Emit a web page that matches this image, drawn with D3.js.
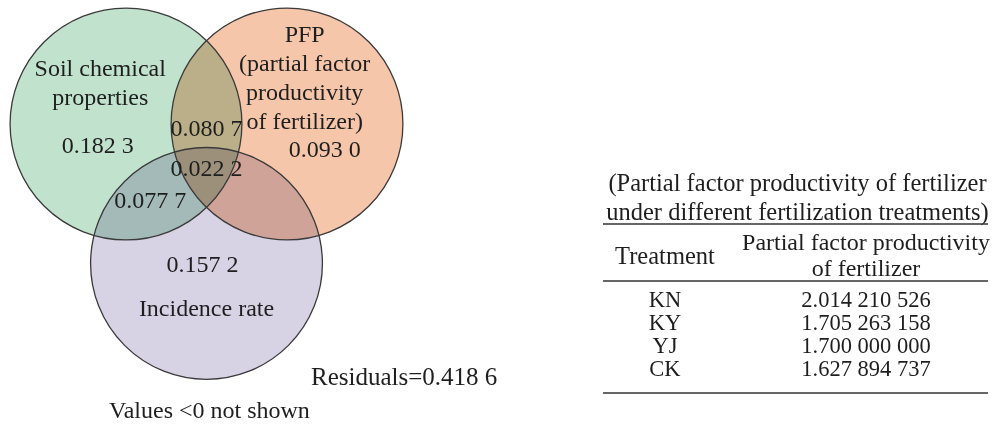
<!DOCTYPE html>
<html>
<head>
<meta charset="utf-8">
<script src="https://cdn.jsdelivr.net/npm/d3@7"></script>
<style>
  html, body { margin: 0; padding: 0; background: #fff; }
  svg { display: block; }
  text { font-family: "Liberation Serif", "Times New Roman", serif; fill: #1e1e1e; }
</style>
</head>
<body>
<svg width="996" height="424"></svg>
<script>
// venn sets
const setNames = ['soil', 'pfp', 'incidence'];
const setLabels = [
  ['Soil chemical', 'properties'],
  ['PFP', '(partial factor', 'productivity', 'of fertilizer)'],
  ['Incidence rate']
];
const setColors = ['#c1e2cd', '#f6c6aa', '#d8d2e5'];

// explained variance per region
const regionKeys = ['soil', 'pfp', 'incidence', 'soil&pfp', 'soil&incidence', 'soil&pfp&incidence'];
const regionValues = ['0.182 3', '0.093 0', '0.157 2', '0.080 7', '0.077 7', '0.022 2'];
const residuals = '0.418 6';
const note = 'Values <0 not shown';

// table
const tableTitle = ['(Partial factor productivity of fertilizer', 'under different fertilization treatments)'];
const tableHeader = ['Treatment', ['Partial factor productivity', 'of fertilizer']];
const treatments = ['KN', 'KY', 'YJ', 'CK'];
const pfpValues = ['2.014 210 526', '1.705 263 158', '1.700 000 000', '1.627 894 737'];

var svg = d3.select('svg');

// venn layout in unit space: three equal circles on an equilateral triangle
const R = 0.72;
const centers = [[0, 0], [1, 0], [0.5, Math.sqrt(3) / 2]];

var x = d3.scaleLinear().domain([0, 1]).range([126, 287]);
var y = d3.scaleLinear().domain([0, 1]).range([124, 285]);
const rPx = x(R) - x(0);

const venn = svg.append('g').attr('class', 'venn');

venn.selectAll('circle.fill')
  .data(setNames)
  .join('circle')
  .attr('class', 'fill')
  .attr('cx', (d, i) => x(centers[i][0]))
  .attr('cy', (d, i) => y(centers[i][1]))
  .attr('r', rPx)
  .attr('fill', (d, i) => setColors[i])
  .style('mix-blend-mode', 'multiply');

venn.selectAll('circle.edge')
  .data(setNames)
  .join('circle')
  .attr('class', 'edge')
  .attr('cx', (d, i) => x(centers[i][0]))
  .attr('cy', (d, i) => y(centers[i][1]))
  .attr('r', rPx)
  .attr('fill', 'none')
  .attr('stroke', '#3a3a3a')
  .attr('stroke-width', 1.3);

// label anchors (unit space)
const setLabelPos = [[-0.16, -0.3], [1.11, -0.51], [0.5, 1.195]];
const regionPos = {
  'soil': [-0.175, 0.18],
  'pfp': [1.235, 0.205],
  'incidence': [0.475, 0.92],
  'soil&pfp': [0.5, 0.075],
  'soil&incidence': [0.15, 0.52],
  'soil&pfp&incidence': [0.5, 0.325]
};

const fs = 24;

setLabels.forEach((lines, i) => {
  const p = setLabelPos[i];
  venn.append('text')
    .attr('text-anchor', 'middle')
    .attr('font-size', fs)
    .selectAll('tspan')
    .data(lines)
    .join('tspan')
    .attr('x', x(p[0]))
    .attr('y', (d, j) => y(p[1] + j * 0.18))
    .text(d => d);
});

venn.selectAll('text.region')
  .data(regionKeys)
  .join('text')
  .attr('class', 'region')
  .attr('text-anchor', 'middle')
  .attr('font-size', fs)
  .attr('x', d => x(regionPos[d][0]))
  .attr('y', d => y(regionPos[d][1]))
  .text((d, i) => regionValues[i]);

venn.append('text')
  .attr('font-size', 25)
  .attr('x', 311)
  .attr('y', 385)
  .text('Residuals=' + residuals);

venn.append('text')
  .attr('font-size', fs)
  .attr('x', 109)
  .attr('y', 418)
  .text(note);

// table
const table = svg.append('g').attr('class', 'table');
const left = 603, right = 988;
var col = d3.scalePoint().domain(['treatment', 'value']).range([665, 866]);
var row = d3.scalePoint().domain(treatments).range([307, 376]);

table.selectAll('text.title')
  .data(tableTitle)
  .join('text')
  .attr('class', 'title')
  .attr('text-anchor', 'middle')
  .attr('font-size', 24.5)
  .attr('x', (left + right) / 2 + 2)
  .attr('y', (d, i) => 191 + i * 29)
  .text(d => d);

table.selectAll('line.rule')
  .data([224, 281, 393])
  .join('line')
  .attr('class', 'rule')
  .attr('x1', left)
  .attr('x2', right)
  .attr('y1', d => d)
  .attr('y2', d => d)
  .attr('stroke', '#333')
  .attr('stroke-width', 1.5);

table.append('text')
  .attr('text-anchor', 'middle')
  .attr('font-size', 24.5)
  .attr('x', col('treatment'))
  .attr('y', 264)
  .text(tableHeader[0]);

table.append('text')
  .attr('text-anchor', 'middle')
  .attr('font-size', 24)
  .selectAll('tspan')
  .data(tableHeader[1])
  .join('tspan')
  .attr('x', col('value'))
  .attr('y', (d, i) => 250 + i * 26)
  .text(d => d);

table.selectAll('text.trt')
  .data(treatments)
  .join('text')
  .attr('class', 'trt')
  .attr('text-anchor', 'middle')
  .attr('font-size', 22.5)
  .attr('x', col('treatment'))
  .attr('y', d => row(d))
  .text(d => d);

table.selectAll('text.val')
  .data(pfpValues)
  .join('text')
  .attr('class', 'val')
  .attr('text-anchor', 'middle')
  .attr('font-size', 22.5)
  .attr('x', col('value'))
  .attr('y', (d, i) => row(treatments[i]))
  .text(d => d);
</script>
</body>
</html>
